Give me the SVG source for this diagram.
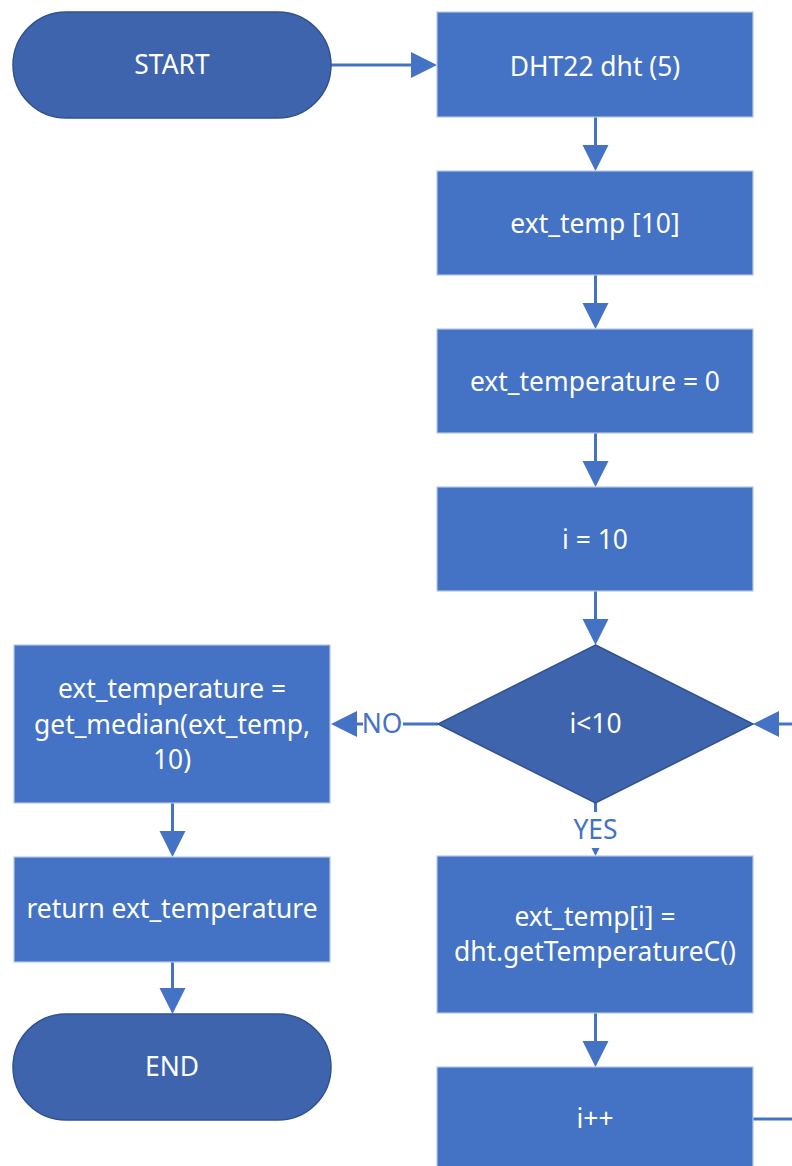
<svg xmlns="http://www.w3.org/2000/svg" width="792" height="1166" viewBox="0 0 792 1166">
  <style>
    .proc { fill: #4472C4; stroke: #B4C7E7; stroke-width: 1.2; }
    .term { fill: #3E64AD; stroke: #2F528F; stroke-width: 1.5; }
    .label { fill: #FFFFFF; font-family: "Noto Sans", "Open Sans", sans-serif; font-size: 26.4px; text-anchor: middle; }
    .edge-label { fill: #4472C4; font-family: "Noto Sans", "Open Sans", sans-serif; font-size: 26.4px; text-anchor: middle; }
    .conn { stroke: #4472C4; stroke-width: 3; fill: none; }
    .head { fill: #4472C4; }
  </style>
  <rect width="792" height="1166" fill="#FFFFFF"/>

  <!-- connectors -->
  <g id="connectors">
    <!-- START -> DHT22 -->
    <line class="conn" x1="331" y1="65" x2="412" y2="65"/>
    <polygon class="head" points="437,65 411,52 411,78"/>
    <!-- right column vertical flow -->
    <line class="conn" x1="595.5" y1="117" x2="595.5" y2="146"/>
    <polygon class="head" points="595.5,171 582.5,145 608.5,145"/>
    <line class="conn" x1="595.5" y1="275" x2="595.5" y2="304"/>
    <polygon class="head" points="595.5,329 582.5,303 608.5,303"/>
    <line class="conn" x1="595.5" y1="433" x2="595.5" y2="462"/>
    <polygon class="head" points="595.5,487 582.5,461 608.5,461"/>
    <line class="conn" x1="595.5" y1="591" x2="595.5" y2="620"/>
    <polygon class="head" points="595.5,645 582.5,619 608.5,619"/>
    <!-- decision YES -> body -->
    <line class="conn" x1="595.5" y1="803" x2="595.5" y2="812"/>
    <text class="edge-label" x="595.5" y="839">YES</text>
    <polygon class="head" points="595.5,856 591.5,848 599.5,848"/>
    <!-- body -> i++ -->
    <line class="conn" x1="595.5" y1="1013" x2="595.5" y2="1042"/>
    <polygon class="head" points="595.5,1067 582.5,1041 608.5,1041"/>
    <!-- i++ loops back to the decision -->
    <line class="conn" x1="753" y1="1119" x2="792" y2="1119"/>
    <line class="conn" x1="778" y1="724" x2="792" y2="724"/>
    <polygon class="head" points="753,724 779,711 779,737"/>
    <!-- decision NO -> median -->
    <line class="conn" x1="438" y1="724" x2="403" y2="724"/>
    <text class="edge-label" x="382" y="733">NO</text>
    <line class="conn" x1="363" y1="724" x2="356" y2="724"/>
    <polygon class="head" points="331,724 357,711 357,737"/>
    <!-- left column vertical flow -->
    <line class="conn" x1="172.5" y1="803" x2="172.5" y2="832"/>
    <polygon class="head" points="172.5,857 159.5,831 185.5,831"/>
    <line class="conn" x1="172.5" y1="962" x2="172.5" y2="989"/>
    <polygon class="head" points="172.5,1014 159.5,988 185.5,988"/>
  </g>

  <g id="start">
    <rect class="term" x="13" y="12" width="318" height="106" rx="53" ry="53"/>
    <text class="label" x="172" y="74">START</text>
  </g>

  <g id="dht">
    <rect class="proc" x="437" y="12" width="316" height="105"/>
    <text class="label" x="595" y="76">DHT22 dht (5)</text>
  </g>

  <g id="ext-temp-array">
    <rect class="proc" x="437" y="171" width="316" height="104"/>
    <text class="label" x="595" y="233">ext_temp [10]</text>
  </g>

  <g id="ext-temperature-init">
    <rect class="proc" x="437" y="329" width="316" height="104"/>
    <text class="label" x="595" y="391">ext_temperature = 0</text>
  </g>

  <g id="i-init">
    <rect class="proc" x="437" y="487" width="316" height="104"/>
    <text class="label" x="595" y="549">i = 10</text>
  </g>

  <g id="decision">
    <polygon class="term" points="595.5,645 753,724 595.5,803 438,724"/>
    <text class="label" x="595.5" y="733">i&lt;10</text>
  </g>

  <g id="read-temp">
    <rect class="proc" x="437" y="856" width="316" height="157"/>
    <text class="label" x="595" y="926">ext_temp[i] =</text>
    <text class="label" x="595" y="961">dht.getTemperatureC()</text>
  </g>

  <g id="increment">
    <rect class="proc" x="437" y="1067" width="316" height="110"/>
    <text class="label" x="595" y="1128">i++</text>
  </g>

  <g id="median">
    <rect class="proc" x="14" y="645" width="316" height="158"/>
    <text class="label" x="172" y="698">ext_temperature =</text>
    <text class="label" x="172" y="734">get_median(ext_temp,</text>
    <text class="label" x="172" y="769">10)</text>
  </g>

  <g id="return">
    <rect class="proc" x="14" y="857" width="316" height="105"/>
    <text class="label" x="172" y="918">return ext_temperature</text>
  </g>

  <g id="end">
    <rect class="term" x="13" y="1014" width="318" height="106" rx="53" ry="53"/>
    <text class="label" x="172" y="1076">END</text>
  </g>
</svg>
